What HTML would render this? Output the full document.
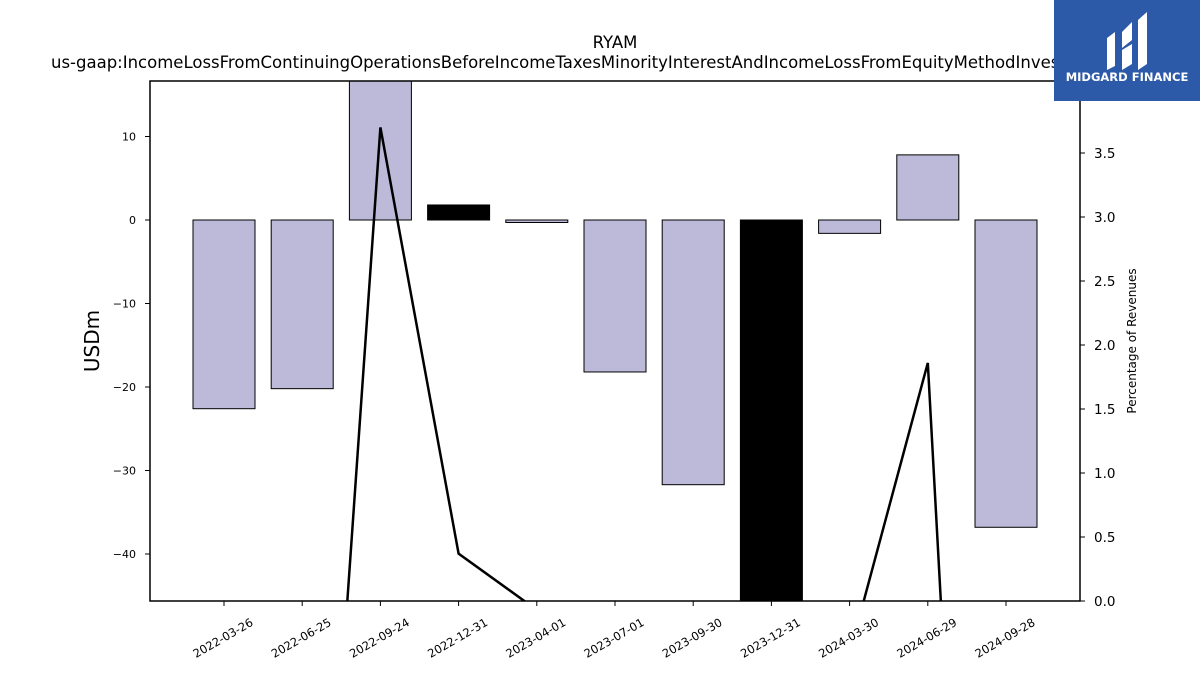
<!DOCTYPE html>
<html><head><meta charset="utf-8"><style>
body{margin:0;background:#fff;width:1200px;height:675px;overflow:hidden;font-family:"DejaVu Sans","Liberation Sans",sans-serif}
svg{display:block}
</style></head><body>
<svg id="chart" width="1200" height="675" xmlns="http://www.w3.org/2000/svg" font-family="DejaVu Sans, Liberation Sans, sans-serif">
<text x="615" y="48" text-anchor="middle" font-size="16.5">RYAM</text>
<text x="51" y="68" font-size="16.5">us-gaap:IncomeLossFromContinuingOperationsBeforeIncomeTaxesMinorityInterestAndIncomeLossFromEquityMethodInvestments</text>
<defs><clipPath id="pc"><rect x="150" y="81" width="930" height="520"/></clipPath></defs>
<g id="bars" clip-path="url(#pc)"></g>
<g id="line" clip-path="url(#pc)"></g>
<rect x="150" y="81" width="930" height="520" fill="none" stroke="#000" stroke-width="1.5"/>
<g id="axes"></g>
<text transform="translate(99,341) rotate(-90)" text-anchor="middle" font-size="20">USDm</text>
<text transform="translate(1136,341) rotate(-90)" text-anchor="middle" font-size="12">Percentage of Revenues</text>
<g>
<rect x="1054" y="0" width="146" height="101" fill="#2d5aa8"/>
<path d="M1107 38 L1115 32 L1115 66 L1107 70 Z M1122 32 L1132 22 L1132 40 L1122 48 Z M1122 50 L1132 44 L1132 64 L1122 70 Z M1138 20 L1147 12 L1147 64 L1138 70 Z" fill="#fff"/>
<text x="1127" y="81" text-anchor="middle" font-size="11.5" font-weight="bold" fill="#fff">MIDGARD FINANCE</text>
</g>
</svg>
<script>
const dates=["2022-03-26","2022-06-25","2022-09-24","2022-12-31","2023-04-01","2023-07-01","2023-09-30","2023-12-31","2024-03-30","2024-06-29","2024-09-28"];
const values=[-22.6,-20.2,18,1.8,-0.3,-18.2,-31.7,-50,-1.6,7.8,-36.8];
const pct=[-5,-5.05,3.7,0.37,-0.07,-1,-2,-10,-0.41,1.86,-9.3];
const barColors=["#bdbad9","#bdbad9","#bdbad9","#000","#bdbad9","#bdbad9","#bdbad9","#000","#bdbad9","#bdbad9","#bdbad9"];
const leftTicks=[10,0,-10,-20,-30,-40];
const rightTicks=[0,0.5,1,1.5,2,2.5,3,3.5];
const NS="http://www.w3.org/2000/svg";
const yL=v=>220-v*8.35;
const yR=v=>601-v*128;
const xB=i=>224+i*78.2;
function mk(t,a,p){const e=document.createElementNS(NS,t);for(const k in a)e.setAttribute(k,a[k]);p.appendChild(e);return e;}
const gb=document.getElementById('bars'),gl=document.getElementById('line'),ga=document.getElementById('axes');
values.forEach((v,i)=>{
 const y0=yL(0),y1=yL(v);
 const r=mk('rect',{x:xB(i)-31,y:Math.min(y0,y1),width:62,height:Math.abs(y1-y0),fill:barColors[i],stroke:'#000','stroke-width':1},gb);
 
 
});
const pl=mk('polyline',{points:pct.map((p,i)=>xB(i)+','+yR(p)).join(' '),fill:'none',stroke:'#000','stroke-width':2.5},gl);


leftTicks.forEach(t=>{
 mk('line',{x1:145,x2:150,y1:yL(t),y2:yL(t),stroke:'#000'},ga);
 const tx=mk('text',{x:136,y:yL(t)+4,'text-anchor':'end','font-size':11},ga);
 tx.textContent=t===0?'0':(t<0?'−'+(-t):t);
 
 
});
rightTicks.forEach(t=>{
 mk('line',{x1:1080,x2:1085,y1:yR(t),y2:yR(t),stroke:'#000'},ga);
 const tx=mk('text',{x:1094,y:yR(t)+5,'font-size':13.5},ga);
 tx.textContent=t.toFixed(1);
 
 
});
dates.forEach((d,i)=>{
 mk('line',{x1:xB(i),x2:xB(i),y1:601,y2:606,stroke:'#000'},ga);
 const cx=xB(i)-1, cy=638;
 const tx=mk('text',{x:cx,y:cy+4,'text-anchor':'middle','font-size':11.5,transform:'rotate(-30 '+cx+' '+cy+')'},ga);
 tx.textContent=d;
 
 
});
</script>
</body></html>
